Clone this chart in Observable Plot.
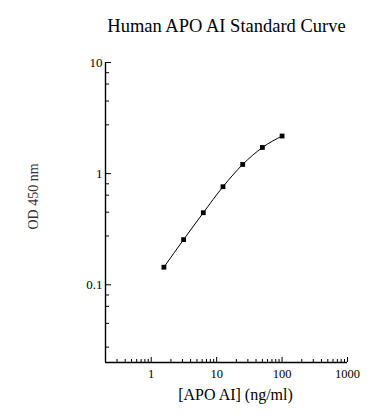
<!DOCTYPE html>
<html><head><meta charset="utf-8">
<script src="https://cdn.jsdelivr.net/npm/d3@7"></script>
<script src="https://cdn.jsdelivr.net/npm/@observablehq/plot@0.6"></script>
<style>
body{margin:0;background:#fff}
svg{font-family:"Liberation Serif","Times New Roman",serif}
</style>
</head><body><div id="chart"></div>
<script>
const titleText = "Human APO AI Standard Curve";
const xLabel = "[APO AI] (ng/ml)";
const yLabel = "OD 450 nm";
const concentration = [1.5625, 3.125, 6.25, 12.5, 25, 50, 100];
const od450 = [0.144, 0.255, 0.445, 0.763, 1.21, 1.72, 2.18];
const xDomain = [0.2, 1000];
const yDomain = [0.02, 10];
const xMajorTicks = [1, 10, 100, 1000];
const xMinorMantissas = [2, 3, 4, 5, 6, 7, 8, 9];
const xDecades = [0.1, 1, 10, 100];
const yMajorTicks = [0.1, 1, 10];
const yMinorMantissas = [8.1, 6.4, 4.5, 2.75];
const yDecades = [0.01, 0.1, 1];

const data = concentration.map((c, i) => ({c, od: od450[i]}));
const xMinorTicks = xDecades.flatMap(d => xMinorMantissas.map(m => +(m * d).toPrecision(3)))
  .filter(v => v > xDomain[0] && v < xDomain[1]);
const yMinorTicks = yDecades.flatMap(d => yMinorMantissas.map(m => +(m * d).toPrecision(3)))
  .filter(v => v > yDomain[0] && v < yDomain[1]);

const chart = Plot.plot({
  width: 388, height: 420,
  marginLeft: 105, marginRight: 41, marginTop: 62, marginBottom: 58,
  style: {fontFamily: '"Liberation Serif","Times New Roman",serif', fontSize: "12px", color: "#000", background: "#fff"},
  x: {type: "log", domain: xDomain},
  y: {type: "log", domain: yDomain},
  marks: [
    Plot.axisX(xMinorTicks, {tickSize: -3, fill: "none", label: null, strokeWidth: 1}),
    Plot.axisX(xMajorTicks, {tickSize: -5, fill: "none", label: null, strokeWidth: 1}),
    Plot.axisX(xMajorTicks, {tickSize: 0, tickPadding: 7, tickFormat: d => String(d), label: null, fontSize: 12.5}),
    Plot.axisY(yMinorTicks, {tickSize: -4, fill: "none", label: null, strokeWidth: 1}),
    Plot.axisY(yMajorTicks, {tickSize: -6, fill: "none", label: null, strokeWidth: 1}),
    Plot.axisY(yMajorTicks, {tickSize: 0, tickPadding: 3, tickFormat: d => String(d), label: null, fontSize: 13}),
    Plot.ruleX([xDomain[0]], {stroke: "#000", strokeWidth: 1.4}),
    Plot.ruleY([yDomain[0]], {stroke: "#000", strokeWidth: 1.4}),
    Plot.line(data, {x: "c", y: "od", stroke: "#000", strokeWidth: 1, curve: "monotone-x"}),
    Plot.dot(data, {x: "c", y: "od", symbol: "square", r: 2.7, fill: "#000", stroke: "none"}),
    Plot.text([titleText], {frameAnchor: "top", textAnchor: "middle", dy: -44, dx: 0, fontSize: 18.5, fill: "#000"}),
    Plot.text([xLabel], {frameAnchor: "bottom", textAnchor: "middle", dy: 37, dx: 9, fontSize: 16, fill: "#000"}),
    Plot.text([yLabel], {frameAnchor: "left", textAnchor: "middle", dx: -72, dy: -16, rotate: -90, fontSize: 14, fill: "#333"})
  ]
});
document.getElementById("chart").append(chart);
</script>
</body></html>
